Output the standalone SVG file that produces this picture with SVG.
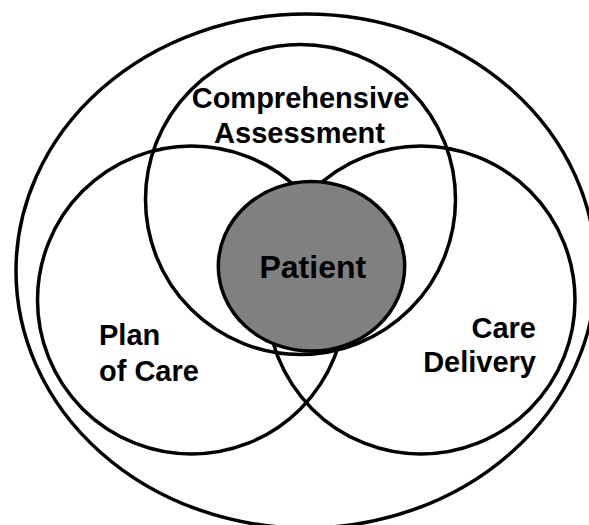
<svg xmlns="http://www.w3.org/2000/svg" width="589" height="525" viewBox="0 0 589 525">
  <style>
    .ring { fill: none; stroke: #000; stroke-width: 3.5; }
    .core { fill: #808080; stroke: #000; stroke-width: 3.5; }
    .label { font-family: "Liberation Sans", Arial, sans-serif; font-weight: bold; font-size: 29px; fill: #000; }
    .big { font-size: 32px; }
  </style>
  <rect width="589" height="525" fill="#fff"/>

  <!-- enclosing boundary -->
  <g id="outer">
    <ellipse class="ring" cx="306" cy="271" rx="290" ry="257"/>
  </g>

  <!-- three overlapping domains -->
  <g id="comprehensive-assessment">
    <circle class="ring" cx="300.5" cy="199.5" r="155"/>
    <text class="label" x="300.5" y="108" text-anchor="middle">Comprehensive</text>
    <text class="label" x="299.5" y="143" text-anchor="middle">Assessment</text>
  </g>

  <g id="plan-of-care">
    <circle class="ring" cx="191.5" cy="300" r="154"/>
    <text class="label" x="99" y="345">Plan</text>
    <text class="label" x="99" y="380.5">of Care</text>
  </g>

  <g id="care-delivery">
    <circle class="ring" cx="421" cy="300" r="154"/>
    <text class="label" x="536" y="338" text-anchor="end">Care</text>
    <text class="label" x="536" y="372" text-anchor="end">Delivery</text>
  </g>

  <!-- centre -->
  <g id="patient">
    <ellipse class="core" cx="311.5" cy="266.3" rx="93.2" ry="84.8"/>
    <text class="label big" x="312.8" y="278" text-anchor="middle">Patient</text>
  </g>

  <g id="connectors"/>
</svg>
